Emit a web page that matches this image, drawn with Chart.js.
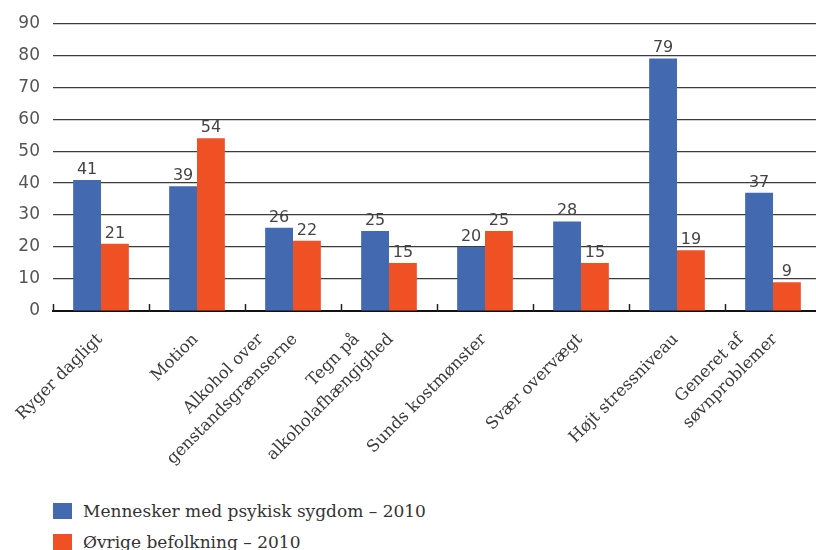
<!DOCTYPE html>
<html lang="da">
<head>
<meta charset="utf-8">
<script src="https://cdn.jsdelivr.net/npm/chart.js@4/dist/chart.umd.min.js"></script>
<style>
  html, body { margin: 0; padding: 0; background: #fff; overflow: hidden; }
  #wrap { position: relative; width: 816px; height: 550px; overflow: hidden; }
  #chart { position: absolute; left: 0; top: 0; }
  #legend { position: absolute; left: 53px; top: 495px; font-family: "DejaVu Serif", serif;
            font-size: 17px; color: #333; }
  #legend .item { display: flex; align-items: center; height: 31px; }
  #legend .box { width: 19px; height: 16px; margin-right: 11px; }
</style>
</head>
<body>
<div id="wrap">
  <canvas id="chart" width="822" height="480"></canvas>
  <div id="legend"></div>
</div>
<script>
// Categories (multi-line labels are arrays of lines)
const categories = [
  "Ryger dagligt",
  "Motion",
  ["Alkohol over", "genstandsgrænserne"],
  ["Tegn på", "alkoholafhængighed"],
  "Sunds kostmønster",
  "Svær overvægt",
  "Højt stressniveau",
  ["Generet af", "søvnproblemer"]
];
const seriesNames = ["Mennesker med psykisk sygdom – 2010", "Øvrige befolkning – 2010"];
const psykiskSygdom = [41, 39, 26, 25, 20, 28, 79, 37];
const oevrigeBefolkning = [21, 54, 22, 15, 25, 15, 19, 9];
const yTicks = [0, 10, 20, 30, 40, 50, 60, 70, 80, 90];

const BLUE = "#4369b1";
const ORANGE = "#ef5124";

// Value labels above each bar
const valueLabels = {
  id: "valueLabels",
  afterDatasetsDraw(chart) {
    const ctx = chart.ctx;
    ctx.save();
    ctx.font = "16px 'DejaVu Sans'";
    ctx.fillStyle = "#444";
    ctx.textAlign = "center";
    ctx.textBaseline = "alphabetic";
    chart.data.datasets.forEach((ds, di) => {
      chart.getDatasetMeta(di).data.forEach((bar, i) => {
        ctx.fillText(String(ds.data[i]), bar.x, bar.y - 6);
      });
    });
    ctx.restore();
  }
};

// Short tick marks at the category boundaries, pointing up from the x axis
const categoryTicks = {
  id: "categoryTicks",
  afterDraw(chart) {
    const xs = chart.scales.x;
    const area = chart.chartArea;
    const ctx = chart.ctx;
    const step = xs.getPixelForValue(1) - xs.getPixelForValue(0);
    ctx.save();
    ctx.strokeStyle = "#222";
    ctx.lineWidth = 1.5;
    for (let i = 0; i <= categories.length; i++) {
      const x = Math.round(xs.getPixelForValue(0) - step / 2 + i * step) + 0.5;
      ctx.beginPath();
      ctx.moveTo(x, area.bottom);
      ctx.lineTo(x, area.bottom - 7);
      ctx.stroke();
    }
    ctx.restore();
  }
};

// Category names at 45°, each line ending on a common baseline under its category
const slantedLabels = {
  id: "slantedLabels",
  afterDraw(chart) {
    const xs = chart.scales.x;
    const ctx = chart.ctx;
    const top = chart.chartArea.bottom + 20;
    ctx.save();
    ctx.font = "16.5px 'DejaVu Serif'";
    ctx.fillStyle = "#3a3a3a";
    ctx.textAlign = "right";
    ctx.textBaseline = "top";
    categories.forEach((cat, i) => {
      const lines = Array.isArray(cat) ? cat : [cat];
      const n = lines.length;
      const cx = xs.getPixelForValue(i) - 7 + (n > 1 ? 3 : 0);
      lines.forEach((line, j) => {
        ctx.save();
        ctx.translate(cx - 34 * (n - 1 - j), top);
        ctx.rotate(-Math.PI / 4);
        ctx.fillText(line, 0, 0);
        ctx.restore();
      });
    });
    ctx.restore();
  }
};

const chart = new Chart(document.getElementById("chart"), {
  type: "bar",
  data: {
    labels: categories,
    datasets: [
      { label: seriesNames[0], data: psykiskSygdom, backgroundColor: BLUE },
      { label: seriesNames[1], data: oevrigeBefolkning, backgroundColor: ORANGE }
    ]
  },
  options: {
    responsive: false,
    animation: false,
    layout: { padding: { top: 22, right: 1, left: 0, bottom: 0 } },
    datasets: { bar: { categoryPercentage: 0.58, barPercentage: 1.0 } },
    plugins: { legend: { display: false }, tooltip: { enabled: false } },
    scales: {
      x: {
        grid: { display: false },
        border: { color: "#111", width: 2 },
        ticks: { display: false },
        afterFit(scale) { scale.height = 169; }
      },
      y: {
        min: 0, max: 90,
        afterBuildTicks(scale) { scale.ticks = yTicks.map(v => ({ value: v })); },
        grid: { color: "#3c3c3c", lineWidth: 1.2, drawTicks: false },
        border: { display: false },
        ticks: {
          padding: 13, color: "#555",
          font: { family: "'DejaVu Sans'", size: 17 }
        },
        afterFit(scale) { scale.width = 53; }
      }
    }
  },
  plugins: [valueLabels, categoryTicks, slantedLabels]
});

// Legend stacked vertically below the chart
const legendEl = document.getElementById("legend");
chart.data.datasets.forEach(ds => {
  const item = document.createElement("div");
  item.className = "item";
  const box = document.createElement("span");
  box.className = "box";
  box.style.background = ds.backgroundColor;
  const txt = document.createElement("span");
  txt.textContent = ds.label;
  item.appendChild(box);
  item.appendChild(txt);
  legendEl.appendChild(item);
});
</script>
</body>
</html>
